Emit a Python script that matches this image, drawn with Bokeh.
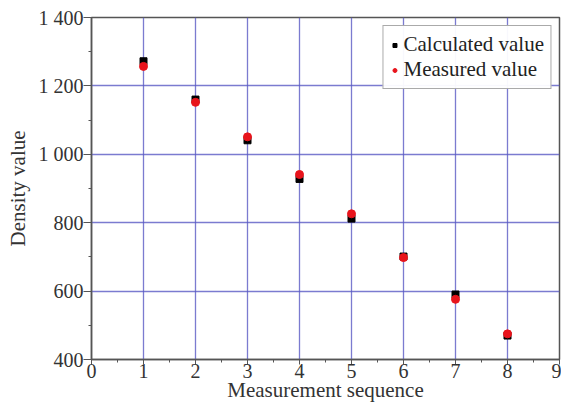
from bokeh.plotting import figure
from bokeh.models import Range1d, FixedTicker, CustomJSTickFormatter, Legend, LegendItem
from bokeh.embed import file_html
from bokeh.resources import INLINE

seq = [1, 2, 3, 4, 5, 6, 7, 8]
calculated = [1272, 1160, 1041, 928, 812, 701, 590, 470]
measured = [1257, 1152, 1051, 941, 826, 698, 576, 475]

x_ticks = [0, 1, 2, 3, 4, 5, 6, 7, 8, 9]
y_ticks = [400, 600, 800, 1000, 1200, 1400]

FONT = "Liberation Serif"

p = figure(width=561, height=404, output_backend="svg", toolbar_location=None,
           x_range=Range1d(0, 9), y_range=Range1d(400, 1400),
           min_border_left=91, min_border_right=2, min_border_top=17, min_border_bottom=43)
p.background_fill_color = "white"
p.border_fill_color = "white"
p.outline_line_color = "#555555"
p.outline_line_width = 1.5

r1 = p.scatter(seq, calculated, marker="square", size=7, color="black")
r2 = p.scatter(seq, measured, marker="circle", size=8, color="#e8141c")

p.xaxis.ticker = FixedTicker(ticks=x_ticks, minor_ticks=[i + 0.5 for i in range(9)])
p.yaxis.ticker = FixedTicker(ticks=y_ticks, minor_ticks=[500, 700, 900, 1100, 1300])
p.yaxis.formatter = CustomJSTickFormatter(code="""
if (tick >= 1000) { return Math.floor(tick/1000) + ' ' + String(tick % 1000).padStart(3, '0'); }
return String(tick);
""")

for ax in (p.xaxis[0], p.yaxis[0]):
    ax.axis_line_color = "#555555"
    ax.axis_line_width = 1.5
    ax.major_tick_line_color = "#555555"
    ax.minor_tick_line_color = "#555555"
    ax.major_tick_in = 0
    ax.minor_tick_out = 3
    ax.minor_tick_in = 0
    ax.major_label_text_font = FONT
    ax.major_label_text_font_size = "20px"
    ax.major_label_text_color = "#333333"
    ax.axis_label_text_font = FONT
    ax.axis_label_text_font_size = "21px"
    ax.axis_label_text_font_style = "normal"
    ax.axis_label_text_color = "#333333"

p.xaxis.major_tick_out = 5
p.yaxis.major_tick_out = 8
p.xaxis.major_label_text_line_height = 0.9
p.xaxis.axis_label_text_line_height = 0.9
p.xaxis.axis_label = "Measurement sequence"
p.yaxis.axis_label = "Density value"
p.xaxis.axis_label_standoff = -3
p.yaxis.axis_label_standoff = 6
p.xaxis.major_label_standoff = -1
p.yaxis.major_label_standoff = 0

p.xgrid.grid_line_color = "#5a5ac4"
p.ygrid.grid_line_color = "#5a5ac4"
p.xgrid.grid_line_alpha = 0.8
p.ygrid.grid_line_alpha = 0.8
p.xgrid.grid_line_width = 1.3
p.ygrid.grid_line_width = 1.3

legend = Legend(items=[LegendItem(label="Calculated value", renderers=[r1]),
                       LegendItem(label="Measured value", renderers=[r2])],
                location="top_right")
legend.label_text_font = FONT
legend.label_text_font_size = "21px"
legend.label_text_line_height = 0.9
legend.label_text_color = "#222222"
legend.border_line_color = "#555555"
legend.border_line_width = 1.5
legend.margin = 8
legend.padding = 6
legend.spacing = -3
legend.glyph_width = 10
legend.glyph_height = 18
legend.label_height = 18
legend.label_standoff = 4
p.add_layout(legend)

open("out.html", "w").write(file_html(p, INLINE))
